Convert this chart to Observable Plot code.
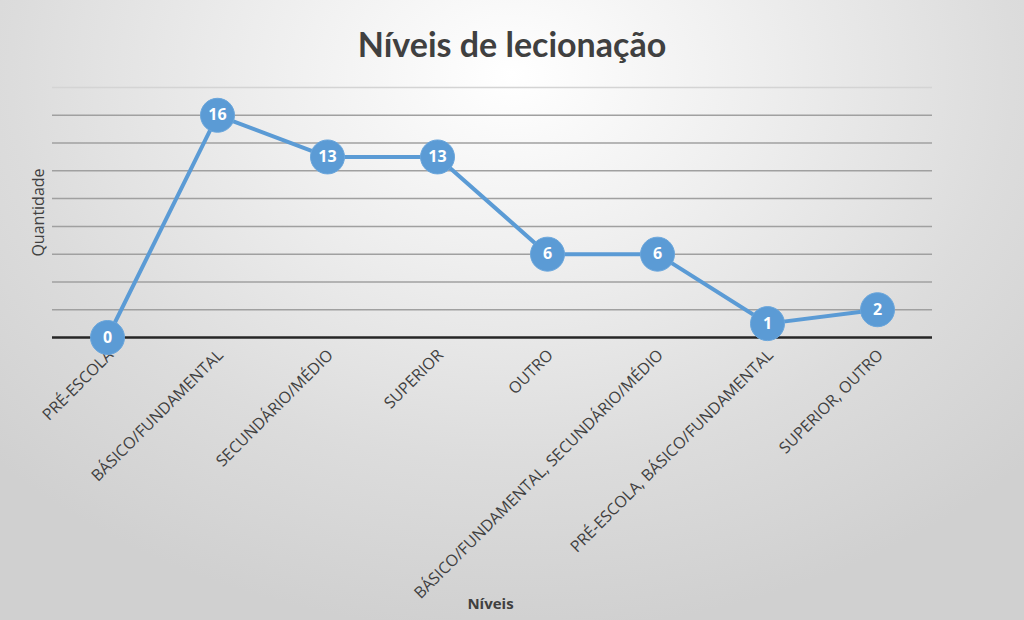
<!DOCTYPE html>
<html>
<head>
<meta charset="utf-8">
<script src="https://cdn.jsdelivr.net/npm/d3@7"></script>
<script src="https://cdn.jsdelivr.net/npm/@observablehq/plot@0.6"></script>
<style>
  html, body { margin: 0; padding: 0; }
  body {
    width: 1024px; height: 620px; overflow: hidden;
    background: radial-gradient(ellipse 70% 90% at 50% 12%, #ffffff 0%, #eeeeee 35%, #dcdcdc 70%, #d0d0d0 100%);
    font-family: "Open Sans", sans-serif;
    position: relative;
  }
  #title {
    height: 75px; line-height: 88px; text-align: center;
    font-family: Lato, "Open Sans", sans-serif; font-weight: bold; font-size: 34px; color: #404040;
  }
</style>
</head>
<body>
<div id="title">Níveis de lecionação</div>
<div id="chart"></div>
<script>
const categories = [
  "PRÉ-ESCOLA",
  "BÁSICO/FUNDAMENTAL",
  "SECUNDÁRIO/MÉDIO",
  "SUPERIOR",
  "OUTRO",
  "BÁSICO/FUNDAMENTAL, SECUNDÁRIO/MÉDIO",
  "PRÉ-ESCOLA, BÁSICO/FUNDAMENTAL",
  "SUPERIOR, OUTRO"
];
const values = [0, 16, 13, 13, 6, 6, 1, 2];
const gridValues = [2, 4, 6, 8, 10, 12, 14, 16];
const topGrid = [18];

const data = categories.map((c, i) => ({category: c, value: values[i]}));

const chart = Plot.plot({
  width: 1024,
  height: 545,
  marginLeft: 52,
  marginRight: 92,
  marginTop: 12,
  marginBottom: 283,
  style: {background: "transparent", fontFamily: "Open Sans, sans-serif"},
  x: {domain: categories, type: "point", padding: 0.5, label: null},
  y: {domain: [0, 18], label: null, axis: null},
  marks: [
    Plot.ruleY(topGrid, {stroke: "#d4d4d4", strokeWidth: 1.5}),
    Plot.ruleY(gridValues, {stroke: "#a0a0a0", strokeWidth: 1.5}),
    Plot.ruleY([0], {stroke: "#262626", strokeWidth: 2.5}),
    Plot.axisX({tickSize: 0, tickRotate: -45, tickPadding: 15, fontSize: 16, fill: "#404040", label: null, dx: 3}),
    Plot.text(["Níveis"], {frameAnchor: "bottom", dy: 283 - 12, fontWeight: "bold", fontSize: 15, fill: "#404040", dx: -2}),
    Plot.text(["Quantidade"], {frameAnchor: "left", textAnchor: "middle", rotate: -90, dx: -14, fontSize: 16, fill: "#404040"}),
    Plot.line(data, {x: "category", y: "value", stroke: "#5b9bd5", strokeWidth: 4}),
    Plot.dot(data, {x: "category", y: "value", r: 17, fill: "#5b9bd5", stroke: "#6aa6dc", strokeWidth: 1}),
    Plot.text(data, {x: "category", y: "value", text: d => String(d.value), fill: "white", fontWeight: "bold", fontSize: 16})
  ]
});
document.getElementById("chart").appendChild(chart);
</script>
</body>
</html>
